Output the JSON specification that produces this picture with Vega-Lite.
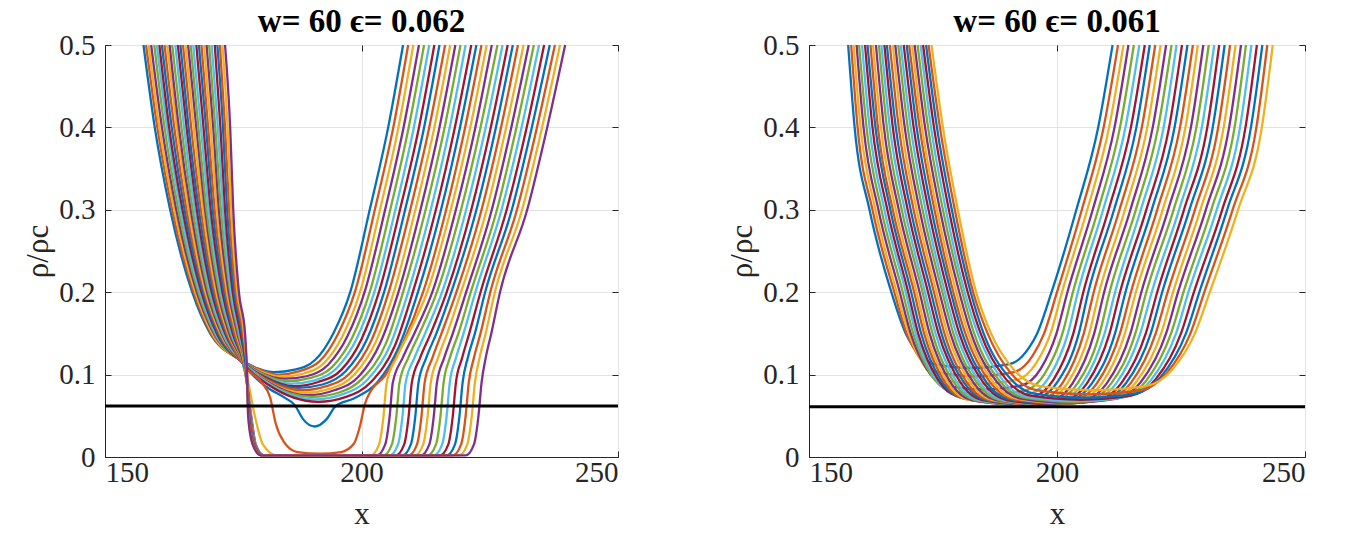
{
"$schema":"https://vega.github.io/schema/vega-lite/v6.json",
"background":"white",
"padding":{"left":22,"top":5,"right":10,"bottom":5},
"spacing":191,
"bounds":"flush",
"config":{
"font":"Liberation Serif",
"view":{"stroke":"#262626","strokeWidth":1},
"axis":{"labelFont":"Liberation Serif","labelFontSize":29,"labelColor":"#262626","titleFont":"Liberation Serif","titleFontSize":31,"titleFontWeight":"normal","titleColor":"#262626","gridColor":"#e3e3e3","gridWidth":1,"domainColor":"#262626","tickColor":"#262626","tickSize":-6,"labelPadding":10},
"axisY":{"labelPadding":16},
"axisX":{"labelPadding":7,"titlePadding":12},
"title":{"font":"Liberation Serif","fontSize":33,"fontWeight":"bold","color":"#000000","offset":-8}
},
"datasets":{
"A":[
{"k":0,"x":157.5,"y":0.5},{"k":0,"x":159.7,"y":0.4},{"k":0,"x":162.7,"y":0.3},{"k":0,"x":167,"y":0.2},{"k":0,"x":170.5,"y":0.15},{"k":0,"x":176.5,"y":0.118},{"k":0,"x":180,"y":0.107},{"k":0,"x":183,"y":0.103},{"k":0,"x":187,"y":0.106},{"k":0,"x":191,"y":0.118},{"k":0,"x":194.5,"y":0.15},{"k":0,"x":197.8,"y":0.2},{"k":0,"x":201.6,"y":0.3},{"k":0,"x":205.2,"y":0.4},{"k":0,"x":208.1,"y":0.5},
{"k":1,"x":158,"y":0.5},{"k":1,"x":160.2,"y":0.4},{"k":1,"x":163.1,"y":0.3},{"k":1,"x":167.3,"y":0.2},{"k":1,"x":170.7,"y":0.15},{"k":1,"x":176.6,"y":0.117},{"k":1,"x":180.2,"y":0.106},{"k":1,"x":183.7,"y":0.1},{"k":1,"x":187.8,"y":0.104},{"k":1,"x":191.8,"y":0.116},{"k":1,"x":195.4,"y":0.149},{"k":1,"x":198.7,"y":0.2},{"k":1,"x":202.6,"y":0.3},{"k":1,"x":206.2,"y":0.4},{"k":1,"x":209.1,"y":0.5},
{"k":2,"x":158.5,"y":0.5},{"k":2,"x":160.6,"y":0.4},{"k":2,"x":163.5,"y":0.3},{"k":2,"x":167.6,"y":0.2},{"k":2,"x":170.9,"y":0.15},{"k":2,"x":176.6,"y":0.117},{"k":2,"x":180.3,"y":0.104},{"k":2,"x":184.3,"y":0.0975},{"k":2,"x":188.5,"y":0.101},{"k":2,"x":192.7,"y":0.114},{"k":2,"x":196.4,"y":0.148},{"k":2,"x":199.7,"y":0.2},{"k":2,"x":203.6,"y":0.3},{"k":2,"x":207.2,"y":0.4},{"k":2,"x":210.1,"y":0.5},
{"k":3,"x":159,"y":0.5},{"k":3,"x":161.1,"y":0.4},{"k":3,"x":163.9,"y":0.3},{"k":3,"x":167.9,"y":0.2},{"k":3,"x":171.2,"y":0.15},{"k":3,"x":176.7,"y":0.117},{"k":3,"x":180.5,"y":0.102},{"k":3,"x":185,"y":0.095},{"k":3,"x":189.3,"y":0.098},{"k":3,"x":193.5,"y":0.112},{"k":3,"x":197.3,"y":0.147},{"k":3,"x":200.6,"y":0.2},{"k":3,"x":204.6,"y":0.3},{"k":3,"x":208.2,"y":0.4},{"k":3,"x":211.2,"y":0.5},
{"k":4,"x":159.6,"y":0.5},{"k":4,"x":161.6,"y":0.4},{"k":4,"x":164.3,"y":0.3},{"k":4,"x":168.2,"y":0.2},{"k":4,"x":171.4,"y":0.15},{"k":4,"x":176.7,"y":0.116},{"k":4,"x":180.6,"y":0.101},{"k":4,"x":185.6,"y":0.092},{"k":4,"x":190.1,"y":0.096},{"k":4,"x":194.4,"y":0.11},{"k":4,"x":198.2,"y":0.145},{"k":4,"x":201.6,"y":0.2},{"k":4,"x":205.6,"y":0.3},{"k":4,"x":209.2,"y":0.4},{"k":4,"x":212.2,"y":0.5},
{"k":5,"x":160.1,"y":0.5},{"k":5,"x":162.1,"y":0.4},{"k":5,"x":164.7,"y":0.3},{"k":5,"x":168.5,"y":0.2},{"k":5,"x":171.6,"y":0.15},{"k":5,"x":176.8,"y":0.116},{"k":5,"x":180.8,"y":0.099},{"k":5,"x":186.3,"y":0.089},{"k":5,"x":190.9,"y":0.093},{"k":5,"x":195.2,"y":0.108},{"k":5,"x":199.1,"y":0.144},{"k":5,"x":202.5,"y":0.2},{"k":5,"x":206.6,"y":0.3},{"k":5,"x":210.2,"y":0.4},{"k":5,"x":213.2,"y":0.5},
{"k":6,"x":160.6,"y":0.5},{"k":6,"x":162.5,"y":0.4},{"k":6,"x":165.1,"y":0.3},{"k":6,"x":168.8,"y":0.2},{"k":6,"x":171.8,"y":0.15},{"k":6,"x":176.8,"y":0.115},{"k":6,"x":180.9,"y":0.098},{"k":6,"x":186.9,"y":0.086},{"k":6,"x":191.6,"y":0.091},{"k":6,"x":196.1,"y":0.106},{"k":6,"x":200,"y":0.143},{"k":6,"x":203.4,"y":0.2},{"k":6,"x":207.5,"y":0.3},{"k":6,"x":211.2,"y":0.4},{"k":6,"x":214.2,"y":0.5},
{"k":7,"x":161.1,"y":0.5},{"k":7,"x":163,"y":0.4},{"k":7,"x":165.5,"y":0.3},{"k":7,"x":169.1,"y":0.2},{"k":7,"x":172,"y":0.15},{"k":7,"x":176.9,"y":0.115},{"k":7,"x":181.1,"y":0.096},{"k":7,"x":187.6,"y":0.084},{"k":7,"x":192.4,"y":0.088},{"k":7,"x":196.9,"y":0.104},{"k":7,"x":201,"y":0.142},{"k":7,"x":204.4,"y":0.2},{"k":7,"x":208.5,"y":0.3},{"k":7,"x":212.2,"y":0.4},{"k":7,"x":215.2,"y":0.5},
{"k":8,"x":161.6,"y":0.5},{"k":8,"x":163.5,"y":0.4},{"k":8,"x":165.9,"y":0.3},{"k":8,"x":169.4,"y":0.2},{"k":8,"x":172.3,"y":0.15},{"k":8,"x":176.9,"y":0.114},{"k":8,"x":181.2,"y":0.095},{"k":8,"x":188.2,"y":0.081},{"k":8,"x":193.2,"y":0.086},{"k":8,"x":197.8,"y":0.102},{"k":8,"x":201.9,"y":0.141},{"k":8,"x":205.3,"y":0.2},{"k":8,"x":209.5,"y":0.3},{"k":8,"x":213.2,"y":0.4},{"k":8,"x":216.3,"y":0.5},
{"k":9,"x":162.1,"y":0.5},{"k":9,"x":164,"y":0.4},{"k":9,"x":166.3,"y":0.3},{"k":9,"x":169.6,"y":0.2},{"k":9,"x":172.5,"y":0.15},{"k":9,"x":177,"y":0.114},{"k":9,"x":181.4,"y":0.093},{"k":9,"x":188.9,"y":0.078},{"k":9,"x":193.9,"y":0.083},{"k":9,"x":198.6,"y":0.1},{"k":9,"x":202.8,"y":0.14},{"k":9,"x":206.3,"y":0.2},{"k":9,"x":210.5,"y":0.3},{"k":9,"x":214.2,"y":0.4},{"k":9,"x":217.3,"y":0.5},
{"k":10,"x":162.6,"y":0.5},{"k":10,"x":164.4,"y":0.4},{"k":10,"x":166.7,"y":0.3},{"k":10,"x":169.9,"y":0.2},{"k":10,"x":172.7,"y":0.15},{"k":10,"x":177,"y":0.113},{"k":10,"x":181.5,"y":0.092},{"k":10,"x":189.5,"y":0.075},{"k":10,"x":194.7,"y":0.081},{"k":10,"x":199.5,"y":0.098},{"k":10,"x":203.7,"y":0.139},{"k":10,"x":207.2,"y":0.2},{"k":10,"x":211.5,"y":0.3},{"k":10,"x":215.2,"y":0.4},{"k":10,"x":218.3,"y":0.5},
{"k":11,"x":163.1,"y":0.5},{"k":11,"x":164.9,"y":0.4},{"k":11,"x":167.1,"y":0.3},{"k":11,"x":170.2,"y":0.2},{"k":11,"x":172.9,"y":0.15},{"k":11,"x":177.1,"y":0.113},{"k":11,"x":181.7,"y":0.09},{"k":11,"x":190.2,"y":0.073},{"k":11,"x":195.5,"y":0.078},{"k":11,"x":200.3,"y":0.096},{"k":11,"x":204.7,"y":0.137},{"k":11,"x":208.1,"y":0.2},{"k":11,"x":212.5,"y":0.3},{"k":11,"x":216.2,"y":0.4},{"k":11,"x":219.3,"y":0.5},
{"k":12,"x":163.7,"y":0.5},{"k":12,"x":165.4,"y":0.4},{"k":12,"x":167.5,"y":0.3},{"k":12,"x":170.5,"y":0.2},{"k":12,"x":173.1,"y":0.15},{"k":12,"x":177.2,"y":0.113},{"k":12,"x":181.9,"y":0.089},{"k":12,"x":190.9,"y":0.07},{"k":12,"x":196.2,"y":0.076},{"k":12,"x":201.2,"y":0.094},{"k":12,"x":205.6,"y":0.136},{"k":12,"x":209.1,"y":0.2},{"k":12,"x":213.5,"y":0.3},{"k":12,"x":217.2,"y":0.4},{"k":12,"x":220.3,"y":0.5},
{"k":13,"x":164.2,"y":0.5},{"k":13,"x":165.9,"y":0.4},{"k":13,"x":167.9,"y":0.3},{"k":13,"x":170.8,"y":0.2},{"k":13,"x":173.4,"y":0.15},{"k":13,"x":177.2,"y":0.112},{"k":13,"x":182,"y":0.087},{"k":13,"x":191.5,"y":0.067},{"k":13,"x":197,"y":0.073},{"k":13,"x":202,"y":0.092},{"k":13,"x":206.5,"y":0.135},{"k":13,"x":210,"y":0.2},{"k":13,"x":214.5,"y":0.3},{"k":13,"x":218.2,"y":0.4},{"k":13,"x":221.4,"y":0.5},
{"k":14,"x":164.7,"y":0.5},{"k":14,"x":166.3,"y":0.4},{"k":14,"x":168.3,"y":0.3},{"k":14,"x":171.1,"y":0.2},{"k":14,"x":173.6,"y":0.15},{"k":14,"x":177.3,"y":0.11},{"k":14,"x":181.5,"y":0.085},{"k":14,"x":185,"y":0.072},{"k":14,"x":187,"y":0.063},{"k":14,"x":188.6,"y":0.046},{"k":14,"x":190.9,"y":0.037},{"k":14,"x":193.2,"y":0.046},{"k":14,"x":195,"y":0.062},{"k":14,"x":198.5,"y":0.071},{"k":14,"x":203,"y":0.09},{"k":14,"x":207.3,"y":0.134},{"k":14,"x":211,"y":0.2},{"k":14,"x":215.5,"y":0.3},{"k":14,"x":219.2,"y":0.4},{"k":14,"x":222.4,"y":0.5},
{"k":15,"x":165.2,"y":0.5},{"k":15,"x":166.8,"y":0.4},{"k":15,"x":168.7,"y":0.3},{"k":15,"x":171.4,"y":0.2},{"k":15,"x":173.8,"y":0.15},{"k":15,"x":177.5,"y":0.108},{"k":15,"x":180.6,"y":0.09},{"k":15,"x":182.2,"y":0.072},{"k":15,"x":183.3,"y":0.04},{"k":15,"x":184.9,"y":0.018},{"k":15,"x":187.5,"y":0.006},{"k":15,"x":192,"y":0.004},{"k":15,"x":196,"y":0.006},{"k":15,"x":198.5,"y":0.016},{"k":15,"x":199.8,"y":0.04},{"k":15,"x":200.6,"y":0.063},{"k":15,"x":201.8,"y":0.08},{"k":15,"x":204.5,"y":0.098},{"k":15,"x":208.2,"y":0.14},{"k":15,"x":212,"y":0.2},{"k":15,"x":216.5,"y":0.3},{"k":15,"x":220.2,"y":0.4},{"k":15,"x":223.4,"y":0.5},
{"k":16,"x":165.7,"y":0.5},{"k":16,"x":167.3,"y":0.4},{"k":16,"x":169.1,"y":0.3},{"k":16,"x":171.7,"y":0.2},{"k":16,"x":174,"y":0.15},{"k":16,"x":177.6,"y":0.1},{"k":16,"x":179.2,"y":0.05},{"k":16,"x":180.8,"y":0.015},{"k":16,"x":183.5,"y":0.002},{"k":16,"x":201.8,"y":0.002},{"k":16,"x":203.4,"y":0.015},{"k":16,"x":204.3,"y":0.05},{"k":16,"x":204.9,"y":0.09},{"k":16,"x":206.8,"y":0.12},{"k":16,"x":209.2,"y":0.15},{"k":16,"x":212.8,"y":0.2},{"k":16,"x":217.4,"y":0.3},{"k":16,"x":221.2,"y":0.4},{"k":16,"x":224.4,"y":0.5},
{"k":17,"x":166.2,"y":0.5},{"k":17,"x":167.8,"y":0.4},{"k":17,"x":169.5,"y":0.3},{"k":17,"x":172,"y":0.2},{"k":17,"x":174.2,"y":0.15},{"k":17,"x":177.4,"y":0.1},{"k":17,"x":178.5,"y":0.05},{"k":17,"x":179.4,"y":0.015},{"k":17,"x":181,"y":0.002},{"k":17,"x":203,"y":0.002},{"k":17,"x":204.6,"y":0.015},{"k":17,"x":205.5,"y":0.05},{"k":17,"x":206.1,"y":0.09},{"k":17,"x":208,"y":0.12},{"k":17,"x":210.3,"y":0.15},{"k":17,"x":213.8,"y":0.2},{"k":17,"x":218.4,"y":0.3},{"k":17,"x":222.2,"y":0.4},{"k":17,"x":225.4,"y":0.5},
{"k":18,"x":166.7,"y":0.5},{"k":18,"x":168.2,"y":0.4},{"k":18,"x":169.8,"y":0.3},{"k":18,"x":172.3,"y":0.2},{"k":18,"x":174.5,"y":0.15},{"k":18,"x":177.4,"y":0.1},{"k":18,"x":178.4,"y":0.05},{"k":18,"x":179.3,"y":0.015},{"k":18,"x":180.9,"y":0.002},{"k":18,"x":204.3,"y":0.002},{"k":18,"x":205.9,"y":0.015},{"k":18,"x":206.8,"y":0.05},{"k":18,"x":207.4,"y":0.09},{"k":18,"x":209.1,"y":0.12},{"k":18,"x":211.3,"y":0.15},{"k":18,"x":214.7,"y":0.2},{"k":18,"x":219.4,"y":0.3},{"k":18,"x":223.2,"y":0.4},{"k":18,"x":226.5,"y":0.5},
{"k":19,"x":167.2,"y":0.5},{"k":19,"x":168.7,"y":0.4},{"k":19,"x":170.2,"y":0.3},{"k":19,"x":172.6,"y":0.2},{"k":19,"x":174.7,"y":0.15},{"k":19,"x":177.5,"y":0.1},{"k":19,"x":178.4,"y":0.05},{"k":19,"x":179.3,"y":0.015},{"k":19,"x":180.9,"y":0.002},{"k":19,"x":205.5,"y":0.002},{"k":19,"x":207.1,"y":0.015},{"k":19,"x":208,"y":0.05},{"k":19,"x":208.6,"y":0.09},{"k":19,"x":210.3,"y":0.12},{"k":19,"x":212.4,"y":0.15},{"k":19,"x":215.7,"y":0.2},{"k":19,"x":220.4,"y":0.3},{"k":19,"x":224.2,"y":0.4},{"k":19,"x":227.5,"y":0.5},
{"k":20,"x":167.8,"y":0.5},{"k":20,"x":169.2,"y":0.4},{"k":20,"x":170.6,"y":0.3},{"k":20,"x":172.9,"y":0.2},{"k":20,"x":174.9,"y":0.15},{"k":20,"x":177.5,"y":0.1},{"k":20,"x":178.3,"y":0.05},{"k":20,"x":179.2,"y":0.015},{"k":20,"x":180.8,"y":0.002},{"k":20,"x":206.7,"y":0.002},{"k":20,"x":208.3,"y":0.015},{"k":20,"x":209.2,"y":0.05},{"k":20,"x":209.8,"y":0.09},{"k":20,"x":211.4,"y":0.12},{"k":20,"x":213.5,"y":0.15},{"k":20,"x":216.6,"y":0.2},{"k":20,"x":221.4,"y":0.3},{"k":20,"x":225.2,"y":0.4},{"k":20,"x":228.5,"y":0.5},
{"k":21,"x":168.3,"y":0.5},{"k":21,"x":169.7,"y":0.4},{"k":21,"x":171,"y":0.3},{"k":21,"x":173.2,"y":0.2},{"k":21,"x":175.1,"y":0.15},{"k":21,"x":177.5,"y":0.1},{"k":21,"x":178.3,"y":0.05},{"k":21,"x":179.2,"y":0.015},{"k":21,"x":180.8,"y":0.002},{"k":21,"x":208,"y":0.002},{"k":21,"x":209.6,"y":0.015},{"k":21,"x":210.5,"y":0.05},{"k":21,"x":211.1,"y":0.09},{"k":21,"x":212.6,"y":0.12},{"k":21,"x":214.6,"y":0.15},{"k":21,"x":217.5,"y":0.2},{"k":21,"x":222.4,"y":0.3},{"k":21,"x":226.2,"y":0.4},{"k":21,"x":229.5,"y":0.5},
{"k":22,"x":168.8,"y":0.5},{"k":22,"x":170.1,"y":0.4},{"k":22,"x":171.4,"y":0.3},{"k":22,"x":173.5,"y":0.2},{"k":22,"x":175.3,"y":0.15},{"k":22,"x":177.5,"y":0.1},{"k":22,"x":178.3,"y":0.05},{"k":22,"x":179.2,"y":0.015},{"k":22,"x":180.8,"y":0.002},{"k":22,"x":209.2,"y":0.002},{"k":22,"x":210.8,"y":0.015},{"k":22,"x":211.7,"y":0.05},{"k":22,"x":212.3,"y":0.09},{"k":22,"x":213.8,"y":0.12},{"k":22,"x":215.6,"y":0.15},{"k":22,"x":218.5,"y":0.2},{"k":22,"x":223.4,"y":0.3},{"k":22,"x":227.2,"y":0.4},{"k":22,"x":230.5,"y":0.5},
{"k":23,"x":169.3,"y":0.5},{"k":23,"x":170.6,"y":0.4},{"k":23,"x":171.8,"y":0.3},{"k":23,"x":173.8,"y":0.2},{"k":23,"x":175.6,"y":0.15},{"k":23,"x":177.5,"y":0.1},{"k":23,"x":178.2,"y":0.05},{"k":23,"x":179.1,"y":0.015},{"k":23,"x":180.7,"y":0.002},{"k":23,"x":210.4,"y":0.002},{"k":23,"x":212,"y":0.015},{"k":23,"x":212.9,"y":0.05},{"k":23,"x":213.5,"y":0.09},{"k":23,"x":214.9,"y":0.12},{"k":23,"x":216.7,"y":0.15},{"k":23,"x":219.4,"y":0.2},{"k":23,"x":224.4,"y":0.3},{"k":23,"x":228.2,"y":0.4},{"k":23,"x":231.6,"y":0.5},
{"k":24,"x":169.8,"y":0.5},{"k":24,"x":171.1,"y":0.4},{"k":24,"x":172.2,"y":0.3},{"k":24,"x":174.1,"y":0.2},{"k":24,"x":175.8,"y":0.15},{"k":24,"x":177.6,"y":0.1},{"k":24,"x":178.2,"y":0.05},{"k":24,"x":179.1,"y":0.015},{"k":24,"x":180.7,"y":0.002},{"k":24,"x":211.6,"y":0.002},{"k":24,"x":213.2,"y":0.015},{"k":24,"x":214.1,"y":0.05},{"k":24,"x":214.7,"y":0.09},{"k":24,"x":216.1,"y":0.12},{"k":24,"x":217.8,"y":0.15},{"k":24,"x":220.4,"y":0.2},{"k":24,"x":225.4,"y":0.3},{"k":24,"x":229.2,"y":0.4},{"k":24,"x":232.6,"y":0.5},
{"k":25,"x":170.3,"y":0.5},{"k":25,"x":171.5,"y":0.4},{"k":25,"x":172.6,"y":0.3},{"k":25,"x":174.4,"y":0.2},{"k":25,"x":176,"y":0.15},{"k":25,"x":177.6,"y":0.1},{"k":25,"x":178.1,"y":0.05},{"k":25,"x":179,"y":0.015},{"k":25,"x":180.6,"y":0.002},{"k":25,"x":212.9,"y":0.002},{"k":25,"x":214.5,"y":0.015},{"k":25,"x":215.4,"y":0.05},{"k":25,"x":216,"y":0.09},{"k":25,"x":217.2,"y":0.12},{"k":25,"x":218.9,"y":0.15},{"k":25,"x":221.3,"y":0.2},{"k":25,"x":226.4,"y":0.3},{"k":25,"x":230.2,"y":0.4},{"k":25,"x":233.6,"y":0.5},
{"k":26,"x":170.8,"y":0.5},{"k":26,"x":172,"y":0.4},{"k":26,"x":173,"y":0.3},{"k":26,"x":174.6,"y":0.2},{"k":26,"x":176.2,"y":0.15},{"k":26,"x":177.6,"y":0.1},{"k":26,"x":178.1,"y":0.05},{"k":26,"x":179,"y":0.015},{"k":26,"x":180.6,"y":0.002},{"k":26,"x":214.1,"y":0.002},{"k":26,"x":215.7,"y":0.015},{"k":26,"x":216.6,"y":0.05},{"k":26,"x":217.2,"y":0.09},{"k":26,"x":218.4,"y":0.12},{"k":26,"x":219.9,"y":0.15},{"k":26,"x":222.2,"y":0.2},{"k":26,"x":227.3,"y":0.3},{"k":26,"x":231.2,"y":0.4},{"k":26,"x":234.6,"y":0.5},
{"k":27,"x":171.4,"y":0.5},{"k":27,"x":172.5,"y":0.4},{"k":27,"x":173.4,"y":0.3},{"k":27,"x":174.9,"y":0.2},{"k":27,"x":176.4,"y":0.15},{"k":27,"x":177.6,"y":0.1},{"k":27,"x":178.1,"y":0.05},{"k":27,"x":179,"y":0.015},{"k":27,"x":180.6,"y":0.002},{"k":27,"x":215.3,"y":0.002},{"k":27,"x":216.9,"y":0.015},{"k":27,"x":217.8,"y":0.05},{"k":27,"x":218.4,"y":0.09},{"k":27,"x":219.6,"y":0.12},{"k":27,"x":221,"y":0.15},{"k":27,"x":223.2,"y":0.2},{"k":27,"x":228.3,"y":0.3},{"k":27,"x":232.2,"y":0.4},{"k":27,"x":235.6,"y":0.5},
{"k":28,"x":171.9,"y":0.5},{"k":28,"x":173,"y":0.4},{"k":28,"x":173.8,"y":0.3},{"k":28,"x":175.2,"y":0.2},{"k":28,"x":176.7,"y":0.15},{"k":28,"x":177.6,"y":0.1},{"k":28,"x":178,"y":0.05},{"k":28,"x":178.9,"y":0.015},{"k":28,"x":180.5,"y":0.002},{"k":28,"x":216.6,"y":0.002},{"k":28,"x":218.2,"y":0.015},{"k":28,"x":219.1,"y":0.05},{"k":28,"x":219.7,"y":0.09},{"k":28,"x":220.7,"y":0.12},{"k":28,"x":222.1,"y":0.15},{"k":28,"x":224.1,"y":0.2},{"k":28,"x":229.3,"y":0.3},{"k":28,"x":233.2,"y":0.4},{"k":28,"x":236.7,"y":0.5},
{"k":29,"x":172.4,"y":0.5},{"k":29,"x":173.4,"y":0.4},{"k":29,"x":174.2,"y":0.3},{"k":29,"x":175.5,"y":0.2},{"k":29,"x":176.9,"y":0.15},{"k":29,"x":177.7,"y":0.1},{"k":29,"x":178,"y":0.05},{"k":29,"x":178.9,"y":0.015},{"k":29,"x":180.5,"y":0.002},{"k":29,"x":217.8,"y":0.002},{"k":29,"x":219.4,"y":0.015},{"k":29,"x":220.3,"y":0.05},{"k":29,"x":220.9,"y":0.09},{"k":29,"x":221.9,"y":0.12},{"k":29,"x":223.2,"y":0.15},{"k":29,"x":225.1,"y":0.2},{"k":29,"x":230.3,"y":0.3},{"k":29,"x":234.2,"y":0.4},{"k":29,"x":237.7,"y":0.5},
{"k":30,"x":172.9,"y":0.5},{"k":30,"x":173.9,"y":0.4},{"k":30,"x":174.6,"y":0.3},{"k":30,"x":175.8,"y":0.2},{"k":30,"x":177.1,"y":0.15},{"k":30,"x":177.7,"y":0.1},{"k":30,"x":177.9,"y":0.05},{"k":30,"x":178.8,"y":0.015},{"k":30,"x":180.4,"y":0.002},{"k":30,"x":219,"y":0.002},{"k":30,"x":220.6,"y":0.015},{"k":30,"x":221.5,"y":0.05},{"k":30,"x":222.1,"y":0.09},{"k":30,"x":223,"y":0.12},{"k":30,"x":224.2,"y":0.15},{"k":30,"x":226,"y":0.2},{"k":30,"x":231.3,"y":0.3},{"k":30,"x":235.2,"y":0.4},{"k":30,"x":238.7,"y":0.5},
{"k":31,"x":173.4,"y":0.5},{"k":31,"x":174.4,"y":0.4},{"k":31,"x":175,"y":0.3},{"k":31,"x":176.1,"y":0.2},{"k":31,"x":177.3,"y":0.15},{"k":31,"x":177.7,"y":0.1},{"k":31,"x":177.9,"y":0.05},{"k":31,"x":178.8,"y":0.015},{"k":31,"x":180.4,"y":0.002},{"k":31,"x":220.3,"y":0.002},{"k":31,"x":221.9,"y":0.015},{"k":31,"x":222.8,"y":0.05},{"k":31,"x":223.4,"y":0.09},{"k":31,"x":224.2,"y":0.12},{"k":31,"x":225.3,"y":0.15},{"k":31,"x":227,"y":0.2},{"k":31,"x":232.3,"y":0.3},{"k":31,"x":236.2,"y":0.4},{"k":31,"x":239.7,"y":0.5}
],
"B":[
{"k":0,"x":157.9,"y":0.5},{"k":0,"x":159.2,"y":0.4},{"k":0,"x":162.2,"y":0.3},{"k":0,"x":166.6,"y":0.2},{"k":0,"x":169.5,"y":0.15},{"k":0,"x":171.1,"y":0.133},{"k":0,"x":175,"y":0.113},{"k":0,"x":182.8,"y":0.108},{"k":0,"x":190.6,"y":0.113},{"k":0,"x":194.4,"y":0.133},{"k":0,"x":196,"y":0.15},{"k":0,"x":198.9,"y":0.2},{"k":0,"x":203.9,"y":0.3},{"k":0,"x":208.3,"y":0.4},{"k":0,"x":211.2,"y":0.5},
{"k":1,"x":158.5,"y":0.5},{"k":1,"x":159.8,"y":0.4},{"k":1,"x":162.8,"y":0.3},{"k":1,"x":167.2,"y":0.2},{"k":1,"x":169.7,"y":0.15},{"k":1,"x":172,"y":0.123},{"k":1,"x":175.9,"y":0.103},{"k":1,"x":183.6,"y":0.098},{"k":1,"x":191.3,"y":0.103},{"k":1,"x":195.1,"y":0.123},{"k":1,"x":197.4,"y":0.15},{"k":1,"x":200,"y":0.2},{"k":1,"x":205,"y":0.3},{"k":1,"x":209.4,"y":0.4},{"k":1,"x":212.3,"y":0.5},
{"k":2,"x":159,"y":0.5},{"k":2,"x":160.4,"y":0.4},{"k":2,"x":163.4,"y":0.3},{"k":2,"x":167.7,"y":0.2},{"k":2,"x":170.1,"y":0.15},{"k":2,"x":172.9,"y":0.114},{"k":2,"x":176.7,"y":0.094},{"k":2,"x":184.4,"y":0.089},{"k":2,"x":192.1,"y":0.094},{"k":2,"x":195.8,"y":0.114},{"k":2,"x":198.7,"y":0.15},{"k":2,"x":201,"y":0.2},{"k":2,"x":206.1,"y":0.3},{"k":2,"x":210.5,"y":0.4},{"k":2,"x":213.4,"y":0.5},
{"k":3,"x":159.6,"y":0.5},{"k":3,"x":161,"y":0.4},{"k":3,"x":164,"y":0.3},{"k":3,"x":168.3,"y":0.2},{"k":3,"x":170.5,"y":0.15},{"k":3,"x":173.7,"y":0.107},{"k":3,"x":177.5,"y":0.087},{"k":3,"x":185.2,"y":0.082},{"k":3,"x":192.9,"y":0.087},{"k":3,"x":196.7,"y":0.107},{"k":3,"x":199.9,"y":0.15},{"k":3,"x":202.1,"y":0.2},{"k":3,"x":207.2,"y":0.3},{"k":3,"x":211.6,"y":0.4},{"k":3,"x":214.4,"y":0.5},
{"k":4,"x":160.1,"y":0.5},{"k":4,"x":161.6,"y":0.4},{"k":4,"x":164.6,"y":0.3},{"k":4,"x":168.9,"y":0.2},{"k":4,"x":171,"y":0.15},{"k":4,"x":174.5,"y":0.101},{"k":4,"x":178.3,"y":0.081},{"k":4,"x":186,"y":0.076},{"k":4,"x":193.7,"y":0.081},{"k":4,"x":197.5,"y":0.101},{"k":4,"x":201.1,"y":0.15},{"k":4,"x":203.2,"y":0.2},{"k":4,"x":208.3,"y":0.3},{"k":4,"x":212.7,"y":0.4},{"k":4,"x":215.5,"y":0.5},
{"k":5,"x":160.7,"y":0.5},{"k":5,"x":162.2,"y":0.4},{"k":5,"x":165.2,"y":0.3},{"k":5,"x":169.5,"y":0.2},{"k":5,"x":171.5,"y":0.15},{"k":5,"x":175.3,"y":0.097},{"k":5,"x":179.1,"y":0.077},{"k":5,"x":186.8,"y":0.072},{"k":5,"x":194.6,"y":0.077},{"k":5,"x":198.4,"y":0.097},{"k":5,"x":202.2,"y":0.15},{"k":5,"x":204.2,"y":0.2},{"k":5,"x":209.3,"y":0.3},{"k":5,"x":213.8,"y":0.4},{"k":5,"x":216.6,"y":0.5},
{"k":6,"x":161.3,"y":0.5},{"k":6,"x":162.8,"y":0.4},{"k":6,"x":165.8,"y":0.3},{"k":6,"x":170,"y":0.2},{"k":6,"x":172,"y":0.15},{"k":6,"x":176,"y":0.094},{"k":6,"x":179.9,"y":0.074},{"k":6,"x":187.7,"y":0.069},{"k":6,"x":195.4,"y":0.074},{"k":6,"x":199.3,"y":0.094},{"k":6,"x":203.3,"y":0.15},{"k":6,"x":205.3,"y":0.2},{"k":6,"x":210.4,"y":0.3},{"k":6,"x":214.9,"y":0.4},{"k":6,"x":217.7,"y":0.5},
{"k":7,"x":161.8,"y":0.5},{"k":7,"x":163.4,"y":0.4},{"k":7,"x":166.4,"y":0.3},{"k":7,"x":170.6,"y":0.2},{"k":7,"x":172.6,"y":0.15},{"k":7,"x":176.7,"y":0.092},{"k":7,"x":180.6,"y":0.072},{"k":7,"x":188.5,"y":0.067},{"k":7,"x":196.3,"y":0.072},{"k":7,"x":200.2,"y":0.092},{"k":7,"x":204.4,"y":0.15},{"k":7,"x":206.3,"y":0.2},{"k":7,"x":211.5,"y":0.3},{"k":7,"x":216,"y":0.4},{"k":7,"x":218.7,"y":0.5},
{"k":8,"x":162.4,"y":0.5},{"k":8,"x":163.9,"y":0.4},{"k":8,"x":166.9,"y":0.3},{"k":8,"x":171.2,"y":0.2},{"k":8,"x":173.2,"y":0.15},{"k":8,"x":177.4,"y":0.0905},{"k":8,"x":181.3,"y":0.0705},{"k":8,"x":189.3,"y":0.0655},{"k":8,"x":197.2,"y":0.0705},{"k":8,"x":201.2,"y":0.0905},{"k":8,"x":205.4,"y":0.15},{"k":8,"x":207.4,"y":0.2},{"k":8,"x":212.6,"y":0.3},{"k":8,"x":217.1,"y":0.4},{"k":8,"x":219.8,"y":0.5},
{"k":9,"x":162.9,"y":0.5},{"k":9,"x":164.5,"y":0.4},{"k":9,"x":167.5,"y":0.3},{"k":9,"x":171.7,"y":0.2},{"k":9,"x":173.7,"y":0.15},{"k":9,"x":178.1,"y":0.0895},{"k":9,"x":182.1,"y":0.0695},{"k":9,"x":190.1,"y":0.0645},{"k":9,"x":198.2,"y":0.0695},{"k":9,"x":202.1,"y":0.0895},{"k":9,"x":206.5,"y":0.15},{"k":9,"x":208.5,"y":0.2},{"k":9,"x":213.7,"y":0.3},{"k":9,"x":218.2,"y":0.4},{"k":9,"x":220.9,"y":0.5},
{"k":10,"x":163.5,"y":0.5},{"k":10,"x":165.1,"y":0.4},{"k":10,"x":168.1,"y":0.3},{"k":10,"x":172.3,"y":0.2},{"k":10,"x":174.3,"y":0.15},{"k":10,"x":178.7,"y":0.089},{"k":10,"x":182.8,"y":0.069},{"k":10,"x":190.9,"y":0.064},{"k":10,"x":199.1,"y":0.069},{"k":10,"x":203.1,"y":0.089},{"k":10,"x":207.5,"y":0.15},{"k":10,"x":209.5,"y":0.2},{"k":10,"x":214.8,"y":0.3},{"k":10,"x":219.3,"y":0.4},{"k":10,"x":222,"y":0.5},
{"k":11,"x":164.1,"y":0.5},{"k":11,"x":165.7,"y":0.4},{"k":11,"x":168.7,"y":0.3},{"k":11,"x":172.9,"y":0.2},{"k":11,"x":174.9,"y":0.15},{"k":11,"x":179.4,"y":0.089},{"k":11,"x":183.5,"y":0.069},{"k":11,"x":191.7,"y":0.064},{"k":11,"x":200,"y":0.069},{"k":11,"x":204.1,"y":0.089},{"k":11,"x":208.6,"y":0.15},{"k":11,"x":210.6,"y":0.2},{"k":11,"x":215.9,"y":0.3},{"k":11,"x":220.4,"y":0.4},{"k":11,"x":223.1,"y":0.5},
{"k":12,"x":164.6,"y":0.5},{"k":12,"x":166.3,"y":0.4},{"k":12,"x":169.3,"y":0.3},{"k":12,"x":173.4,"y":0.2},{"k":12,"x":175.5,"y":0.15},{"k":12,"x":180,"y":0.089},{"k":12,"x":184.2,"y":0.069},{"k":12,"x":192.5,"y":0.064},{"k":12,"x":200.9,"y":0.069},{"k":12,"x":205.1,"y":0.089},{"k":12,"x":209.6,"y":0.15},{"k":12,"x":211.7,"y":0.2},{"k":12,"x":216.9,"y":0.3},{"k":12,"x":221.5,"y":0.4},{"k":12,"x":224.1,"y":0.5},
{"k":13,"x":165.2,"y":0.5},{"k":13,"x":166.9,"y":0.4},{"k":13,"x":169.9,"y":0.3},{"k":13,"x":174,"y":0.2},{"k":13,"x":176.1,"y":0.15},{"k":13,"x":180.7,"y":0.089},{"k":13,"x":184.9,"y":0.069},{"k":13,"x":193.4,"y":0.064},{"k":13,"x":201.8,"y":0.069},{"k":13,"x":206,"y":0.089},{"k":13,"x":210.6,"y":0.15},{"k":13,"x":212.7,"y":0.2},{"k":13,"x":218,"y":0.3},{"k":13,"x":222.6,"y":0.4},{"k":13,"x":225.2,"y":0.5},
{"k":14,"x":165.7,"y":0.5},{"k":14,"x":167.5,"y":0.4},{"k":14,"x":170.5,"y":0.3},{"k":14,"x":174.6,"y":0.2},{"k":14,"x":176.7,"y":0.15},{"k":14,"x":181.4,"y":0.089},{"k":14,"x":185.6,"y":0.069},{"k":14,"x":194.2,"y":0.064},{"k":14,"x":202.8,"y":0.069},{"k":14,"x":207,"y":0.089},{"k":14,"x":211.7,"y":0.15},{"k":14,"x":213.8,"y":0.2},{"k":14,"x":219.1,"y":0.3},{"k":14,"x":223.7,"y":0.4},{"k":14,"x":226.3,"y":0.5},
{"k":15,"x":166.3,"y":0.5},{"k":15,"x":168.1,"y":0.4},{"k":15,"x":171.1,"y":0.3},{"k":15,"x":175.2,"y":0.2},{"k":15,"x":177.3,"y":0.15},{"k":15,"x":182,"y":0.089},{"k":15,"x":186.3,"y":0.069},{"k":15,"x":195,"y":0.064},{"k":15,"x":203.7,"y":0.069},{"k":15,"x":208,"y":0.089},{"k":15,"x":212.7,"y":0.15},{"k":15,"x":214.9,"y":0.2},{"k":15,"x":220.2,"y":0.3},{"k":15,"x":224.8,"y":0.4},{"k":15,"x":227.4,"y":0.5},
{"k":16,"x":166.9,"y":0.5},{"k":16,"x":168.7,"y":0.4},{"k":16,"x":171.7,"y":0.3},{"k":16,"x":175.7,"y":0.2},{"k":16,"x":177.9,"y":0.15},{"k":16,"x":182.7,"y":0.089},{"k":16,"x":187,"y":0.069},{"k":16,"x":195.8,"y":0.064},{"k":16,"x":204.6,"y":0.069},{"k":16,"x":209,"y":0.089},{"k":16,"x":213.7,"y":0.15},{"k":16,"x":215.9,"y":0.2},{"k":16,"x":221.3,"y":0.3},{"k":16,"x":225.9,"y":0.4},{"k":16,"x":228.4,"y":0.5},
{"k":17,"x":167.4,"y":0.5},{"k":17,"x":169.3,"y":0.4},{"k":17,"x":172.3,"y":0.3},{"k":17,"x":176.3,"y":0.2},{"k":17,"x":178.5,"y":0.15},{"k":17,"x":183.3,"y":0.089},{"k":17,"x":187.7,"y":0.069},{"k":17,"x":196.6,"y":0.064},{"k":17,"x":205.5,"y":0.069},{"k":17,"x":210,"y":0.089},{"k":17,"x":214.8,"y":0.15},{"k":17,"x":217,"y":0.2},{"k":17,"x":222.4,"y":0.3},{"k":17,"x":227,"y":0.4},{"k":17,"x":229.5,"y":0.5},
{"k":18,"x":168,"y":0.5},{"k":18,"x":169.9,"y":0.4},{"k":18,"x":172.9,"y":0.3},{"k":18,"x":176.9,"y":0.2},{"k":18,"x":179.1,"y":0.15},{"k":18,"x":184,"y":0.089},{"k":18,"x":188.4,"y":0.069},{"k":18,"x":197.4,"y":0.064},{"k":18,"x":206.5,"y":0.069},{"k":18,"x":210.9,"y":0.089},{"k":18,"x":215.8,"y":0.15},{"k":18,"x":218,"y":0.2},{"k":18,"x":223.5,"y":0.3},{"k":18,"x":228.1,"y":0.4},{"k":18,"x":230.6,"y":0.5},
{"k":19,"x":168.5,"y":0.5},{"k":19,"x":170.5,"y":0.4},{"k":19,"x":173.5,"y":0.3},{"k":19,"x":177.4,"y":0.2},{"k":19,"x":179.7,"y":0.15},{"k":19,"x":184.6,"y":0.089},{"k":19,"x":189.1,"y":0.069},{"k":19,"x":198.3,"y":0.064},{"k":19,"x":207.4,"y":0.069},{"k":19,"x":211.9,"y":0.089},{"k":19,"x":216.8,"y":0.15},{"k":19,"x":219.1,"y":0.2},{"k":19,"x":224.6,"y":0.3},{"k":19,"x":229.2,"y":0.4},{"k":19,"x":231.7,"y":0.5},
{"k":20,"x":169.1,"y":0.5},{"k":20,"x":171.1,"y":0.4},{"k":20,"x":174.1,"y":0.3},{"k":20,"x":178,"y":0.2},{"k":20,"x":180.3,"y":0.15},{"k":20,"x":185.3,"y":0.089},{"k":20,"x":189.9,"y":0.069},{"k":20,"x":199.1,"y":0.064},{"k":20,"x":208.3,"y":0.069},{"k":20,"x":212.9,"y":0.089},{"k":20,"x":217.9,"y":0.15},{"k":20,"x":220.2,"y":0.2},{"k":20,"x":225.6,"y":0.3},{"k":20,"x":230.3,"y":0.4},{"k":20,"x":232.7,"y":0.5},
{"k":21,"x":169.7,"y":0.5},{"k":21,"x":171.7,"y":0.4},{"k":21,"x":174.7,"y":0.3},{"k":21,"x":178.6,"y":0.2},{"k":21,"x":180.9,"y":0.15},{"k":21,"x":185.9,"y":0.0895},{"k":21,"x":190.6,"y":0.0695},{"k":21,"x":199.9,"y":0.0645},{"k":21,"x":209.3,"y":0.0695},{"k":21,"x":213.9,"y":0.0895},{"k":21,"x":218.9,"y":0.15},{"k":21,"x":221.2,"y":0.2},{"k":21,"x":226.7,"y":0.3},{"k":21,"x":231.4,"y":0.4},{"k":21,"x":233.8,"y":0.5},
{"k":22,"x":170.2,"y":0.5},{"k":22,"x":172.3,"y":0.4},{"k":22,"x":175.3,"y":0.3},{"k":22,"x":179.1,"y":0.2},{"k":22,"x":181.5,"y":0.15},{"k":22,"x":186.6,"y":0.09},{"k":22,"x":191.3,"y":0.07},{"k":22,"x":200.7,"y":0.065},{"k":22,"x":210.2,"y":0.07},{"k":22,"x":214.9,"y":0.09},{"k":22,"x":219.9,"y":0.15},{"k":22,"x":222.3,"y":0.2},{"k":22,"x":227.8,"y":0.3},{"k":22,"x":232.5,"y":0.4},{"k":22,"x":234.9,"y":0.5},
{"k":23,"x":170.8,"y":0.5},{"k":23,"x":172.8,"y":0.4},{"k":23,"x":175.8,"y":0.3},{"k":23,"x":179.7,"y":0.2},{"k":23,"x":182.1,"y":0.15},{"k":23,"x":187.2,"y":0.0905},{"k":23,"x":192,"y":0.0705},{"k":23,"x":201.5,"y":0.0655},{"k":23,"x":211.1,"y":0.0705},{"k":23,"x":215.9,"y":0.0905},{"k":23,"x":221,"y":0.15},{"k":23,"x":223.4,"y":0.2},{"k":23,"x":228.9,"y":0.3},{"k":23,"x":233.6,"y":0.4},{"k":23,"x":236,"y":0.5},
{"k":24,"x":171.3,"y":0.5},{"k":24,"x":173.4,"y":0.4},{"k":24,"x":176.4,"y":0.3},{"k":24,"x":180.3,"y":0.2},{"k":24,"x":182.7,"y":0.15},{"k":24,"x":187.9,"y":0.091},{"k":24,"x":192.7,"y":0.071},{"k":24,"x":202.3,"y":0.066},{"k":24,"x":212.1,"y":0.071},{"k":24,"x":216.9,"y":0.091},{"k":24,"x":222,"y":0.15},{"k":24,"x":224.4,"y":0.2},{"k":24,"x":230,"y":0.3},{"k":24,"x":234.7,"y":0.4},{"k":24,"x":237.1,"y":0.5},
{"k":25,"x":171.9,"y":0.5},{"k":25,"x":174,"y":0.4},{"k":25,"x":177,"y":0.3},{"k":25,"x":180.9,"y":0.2},{"k":25,"x":183.3,"y":0.15},{"k":25,"x":188.5,"y":0.092},{"k":25,"x":193.3,"y":0.072},{"k":25,"x":203.2,"y":0.067},{"k":25,"x":213,"y":0.072},{"k":25,"x":217.9,"y":0.092},{"k":25,"x":223,"y":0.15},{"k":25,"x":225.5,"y":0.2},{"k":25,"x":231.1,"y":0.3},{"k":25,"x":235.8,"y":0.4},{"k":25,"x":238.1,"y":0.5},
{"k":26,"x":172.5,"y":0.5},{"k":26,"x":174.6,"y":0.4},{"k":26,"x":177.6,"y":0.3},{"k":26,"x":181.4,"y":0.2},{"k":26,"x":184,"y":0.15},{"k":26,"x":189.1,"y":0.093},{"k":26,"x":194,"y":0.073},{"k":26,"x":204,"y":0.068},{"k":26,"x":213.9,"y":0.073},{"k":26,"x":218.9,"y":0.093},{"k":26,"x":224,"y":0.15},{"k":26,"x":226.5,"y":0.2},{"k":26,"x":232.2,"y":0.3},{"k":26,"x":236.9,"y":0.4},{"k":26,"x":239.2,"y":0.5},
{"k":27,"x":173,"y":0.5},{"k":27,"x":175.2,"y":0.4},{"k":27,"x":178.2,"y":0.3},{"k":27,"x":182,"y":0.2},{"k":27,"x":184.6,"y":0.15},{"k":27,"x":189.7,"y":0.0945},{"k":27,"x":194.7,"y":0.0745},{"k":27,"x":204.8,"y":0.0695},{"k":27,"x":214.9,"y":0.0745},{"k":27,"x":219.9,"y":0.0945},{"k":27,"x":225,"y":0.15},{"k":27,"x":227.6,"y":0.2},{"k":27,"x":233.3,"y":0.3},{"k":27,"x":238,"y":0.4},{"k":27,"x":240.3,"y":0.5},
{"k":28,"x":173.6,"y":0.5},{"k":28,"x":175.8,"y":0.4},{"k":28,"x":178.8,"y":0.3},{"k":28,"x":182.6,"y":0.2},{"k":28,"x":185.2,"y":0.15},{"k":28,"x":190.3,"y":0.097},{"k":28,"x":195.4,"y":0.077},{"k":28,"x":205.6,"y":0.072},{"k":28,"x":215.9,"y":0.077},{"k":28,"x":220.9,"y":0.097},{"k":28,"x":226,"y":0.15},{"k":28,"x":228.7,"y":0.2},{"k":28,"x":234.3,"y":0.3},{"k":28,"x":239.1,"y":0.4},{"k":28,"x":241.4,"y":0.5},
{"k":29,"x":174.1,"y":0.5},{"k":29,"x":176.4,"y":0.4},{"k":29,"x":179.4,"y":0.3},{"k":29,"x":183.1,"y":0.2},{"k":29,"x":186,"y":0.15},{"k":29,"x":190.8,"y":0.101},{"k":29,"x":196,"y":0.081},{"k":29,"x":206.4,"y":0.076},{"k":29,"x":216.9,"y":0.081},{"k":29,"x":222,"y":0.101},{"k":29,"x":226.9,"y":0.15},{"k":29,"x":229.7,"y":0.2},{"k":29,"x":235.4,"y":0.3},{"k":29,"x":240.2,"y":0.4},{"k":29,"x":242.4,"y":0.5},
{"k":30,"x":174.7,"y":0.5},{"k":30,"x":177,"y":0.4},{"k":30,"x":180,"y":0.3},{"k":30,"x":183.7,"y":0.2},{"k":30,"x":186.7,"y":0.15},{"k":30,"x":191.3,"y":0.106},{"k":30,"x":196.6,"y":0.086},{"k":30,"x":207.2,"y":0.081},{"k":30,"x":217.9,"y":0.086},{"k":30,"x":223.2,"y":0.106},{"k":30,"x":227.8,"y":0.15},{"k":30,"x":230.8,"y":0.2},{"k":30,"x":236.5,"y":0.3},{"k":30,"x":241.3,"y":0.4},{"k":30,"x":243.5,"y":0.5}
]
},
"hconcat":[
{"width":513,"height":412,"title":"w= 60 ϵ= 0.062",
"layer":[
{"data":{"name":"A"},"mark":{"type":"line","strokeWidth":2.3,"interpolate":"monotone"},
"encoding":{
"x":{"field":"x","type":"quantitative","scale":{"domain":[150,250],"nice":false,"zero":false},"axis":{"values":[150,200,250],"title":"x","grid":true}},
"y":{"field":"y","type":"quantitative","scale":{"domain":[0,0.5],"nice":false},"axis":{"values":[0,0.1,0.2,0.3,0.4,0.5],"format":"~g","title":"ρ/ρc","grid":true}},
"color":{"field":"k","type":"nominal","scale":{"range":["#0072BD","#D95319","#EDB120","#7E2F8E","#77AC30","#4DBEEE","#A2142F"]},"legend":null}}},
{"data":{"values":[{"e":0.062,"x0":150,"x1":250}]},"mark":{"type":"rule","color":"#000000","strokeWidth":3},
"encoding":{
"x":{"field":"x0","type":"quantitative","axis":{"orient":"top","labels":false,"title":null,"grid":false,"domain":false,"values":[150,200,250]}},
"x2":{"field":"x1"},
"y":{"field":"e","type":"quantitative","axis":{"orient":"right","labels":false,"title":null,"grid":false,"domain":false,"values":[0,0.1,0.2,0.3,0.4,0.5]}}}}
],
"resolve":{"axis":{"x":"independent","y":"independent"}}
},
{"width":496,"height":412,"title":"w= 60 ϵ= 0.061",
"layer":[
{"data":{"name":"B"},"mark":{"type":"line","strokeWidth":2.3,"interpolate":"monotone"},
"encoding":{
"x":{"field":"x","type":"quantitative","scale":{"domain":[150,250],"nice":false,"zero":false},"axis":{"values":[150,200,250],"title":"x","grid":true}},
"y":{"field":"y","type":"quantitative","scale":{"domain":[0,0.5],"nice":false},"axis":{"values":[0,0.1,0.2,0.3,0.4,0.5],"format":"~g","title":"ρ/ρc","grid":true}},
"color":{"field":"k","type":"nominal","scale":{"range":["#0072BD","#D95319","#EDB120","#7E2F8E","#77AC30","#4DBEEE","#A2142F"]},"legend":null}}},
{"data":{"values":[{"e":0.061,"x0":150,"x1":250}]},"mark":{"type":"rule","color":"#000000","strokeWidth":3},
"encoding":{
"x":{"field":"x0","type":"quantitative","axis":{"orient":"top","labels":false,"title":null,"grid":false,"domain":false,"values":[150,200,250]}},
"x2":{"field":"x1"},
"y":{"field":"e","type":"quantitative","axis":{"orient":"right","labels":false,"title":null,"grid":false,"domain":false,"values":[0,0.1,0.2,0.3,0.4,0.5]}}}}
],
"resolve":{"axis":{"x":"independent","y":"independent"}}
}
]
}
